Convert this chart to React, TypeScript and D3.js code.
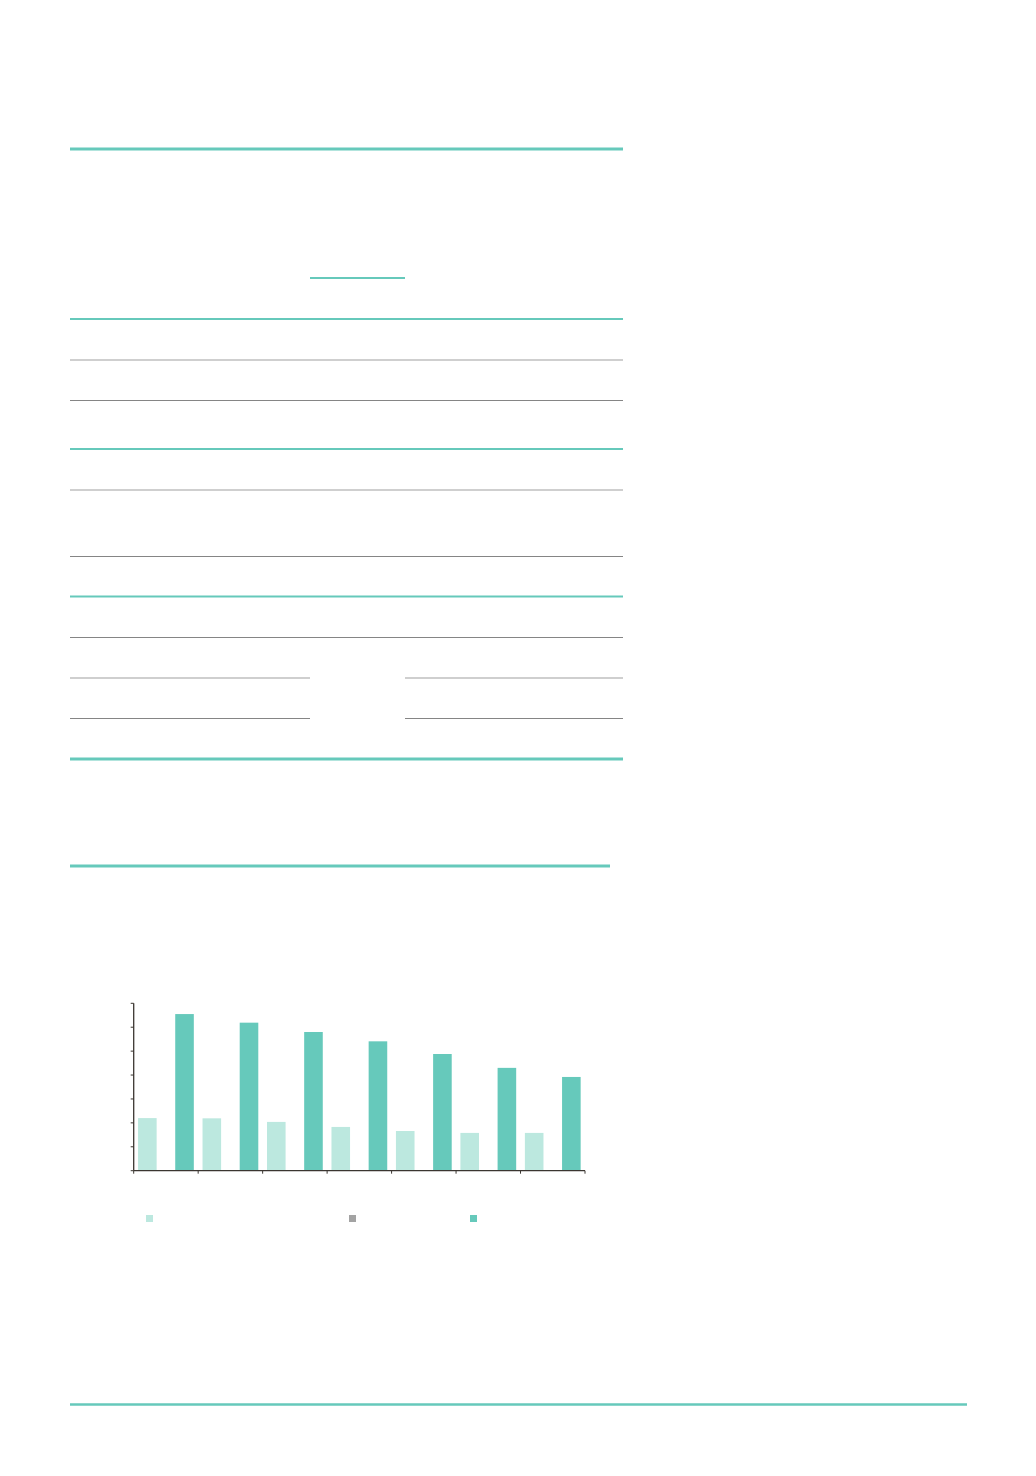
import * as d3 from "d3";

// Seven unlabelled groups, three series (the grey one carries no bars).
const CATEGORIES = ["c1", "c2", "c3", "c4", "c5", "c6", "c7"];
const SERIES = ["light", "grey", "dark"];
const LIGHT_VALUES = [2.2, 2.19, 2.04, 1.83, 1.66, 1.58, 1.58];
const GREY_VALUES = [0, 0, 0, 0, 0, 0, 0];
const DARK_VALUES = [6.55, 6.19, 5.8, 5.41, 4.88, 4.3, 3.92];
const Y_TICKS = [0, 1, 2, 3, 4, 5, 6, 7];

const COLORS: Record<string, string> = { light: "#bce8df", grey: "#a3a3a3", dark: "#66c9bb" };
const TEAL = "#66c9bb";
const AXIS = "#3b3631";

const W = 1036;
const H = 1476;

// Page rules of the (text-less) table above the chart.
const RULES: { y: number; x0: number; x1: number; kind: string }[] = [
    { y: 149, x0: 70, x1: 623, kind: "tealHeavy" },
    { y: 278, x0: 310, x1: 405, kind: "teal" },
    { y: 319, x0: 70, x1: 623, kind: "teal" },
    { y: 360, x0: 70, x1: 623, kind: "light" },
    { y: 400.5, x0: 70, x1: 623, kind: "dark" },
    { y: 449, x0: 70, x1: 623, kind: "teal" },
    { y: 490, x0: 70, x1: 623, kind: "light" },
    { y: 556.5, x0: 70, x1: 623, kind: "dark" },
    { y: 596.5, x0: 70, x1: 623, kind: "teal" },
    { y: 637.5, x0: 70, x1: 623, kind: "dark" },
    { y: 678, x0: 70, x1: 310, kind: "light" },
    { y: 678, x0: 405, x1: 623, kind: "light" },
    { y: 718.5, x0: 70, x1: 310, kind: "dark" },
    { y: 718.5, x0: 405, x1: 623, kind: "dark" },
    { y: 759, x0: 70, x1: 623, kind: "tealHeavy" },
    { y: 866, x0: 70, x1: 610, kind: "tealHeavy" },
    { y: 1404.5, x0: 70, x1: 967, kind: "tealFooter" },
];

const RULE_STYLE: Record<string, { stroke: string; width: number }> = {
    tealHeavy: { stroke: TEAL, width: 3.2 },
    teal: { stroke: TEAL, width: 2 },
    tealFooter: { stroke: TEAL, width: 2.5 },
    light: { stroke: "#bfbfbf", width: 1.3 },
    dark: { stroke: "#858585", width: 1.1 },
};

const PLOT = { left: 133.7, right: 585, top: 1003.3, bottom: 1170.7 };
const LEGEND_X = [146, 349, 470];
const LEGEND_Y = 1215;

export default function App() {
    const x = d3.scaleBand<string>().domain(CATEGORIES).range([PLOT.left, PLOT.right]).paddingInner(0).paddingOuter(0);
    const xs = d3.scaleBand<string>().domain(SERIES).range([0, x.bandwidth()]).paddingInner(0).paddingOuter(0.234);
    const y = d3.scaleLinear().domain([0, 7]).range([PLOT.bottom, PLOT.top]);
    // Category boundaries for the x-axis ticks.
    const xb = d3.scaleLinear().domain([0, CATEGORIES.length]).range([PLOT.left, PLOT.right]);

    const valuesBySeries: Record<string, number[]> = { light: LIGHT_VALUES, grey: GREY_VALUES, dark: DARK_VALUES };

    return (
        <svg width={W} height={H} style={{ position: "absolute", left: 0, top: 0, background: "#fff" }}>
            {RULES.map((r, i) => (
                <line
                    key={i}
                    x1={r.x0}
                    x2={r.x1}
                    y1={r.y}
                    y2={r.y}
                    stroke={RULE_STYLE[r.kind].stroke}
                    strokeWidth={RULE_STYLE[r.kind].width}
                />
            ))}

            {/* bars */}
            <g>
                {SERIES.map((s) =>
                    CATEGORIES.map((c, i) => {
                        const v = valuesBySeries[s][i];
                        if (!v) return null;
                        return (
                            <rect
                                key={s + c}
                                x={(x(c) ?? 0) + (xs(s) ?? 0)}
                                y={y(v)}
                                width={xs.bandwidth()}
                                height={y(0) - y(v)}
                                fill={COLORS[s]}
                            />
                        );
                    })
                )}
            </g>

            {/* y axis */}
            <g>
                <line x1={PLOT.left} x2={PLOT.left} y1={y(7)} y2={y(0)} stroke={AXIS} strokeWidth={1.3} />
                {Y_TICKS.map((t) => (
                    <line key={t} x1={PLOT.left - 3} x2={PLOT.left} y1={y(t)} y2={y(t)} stroke={AXIS} strokeWidth={1} />
                ))}
            </g>

            {/* x axis */}
            <g>
                <line x1={PLOT.left} x2={PLOT.right} y1={y(0)} y2={y(0)} stroke={AXIS} strokeWidth={1.3} />
                {d3.range(CATEGORIES.length + 1).map((k) => (
                    <line key={k} x1={xb(k)} x2={xb(k)} y1={y(0)} y2={y(0) + 3} stroke={AXIS} strokeWidth={1} />
                ))}
            </g>

            {/* legend swatches */}
            <g>
                {SERIES.map((s, i) => (
                    <rect key={s} x={LEGEND_X[i]} y={LEGEND_Y} width={7} height={7} fill={COLORS[s]} />
                ))}
            </g>
        </svg>
    );
}
